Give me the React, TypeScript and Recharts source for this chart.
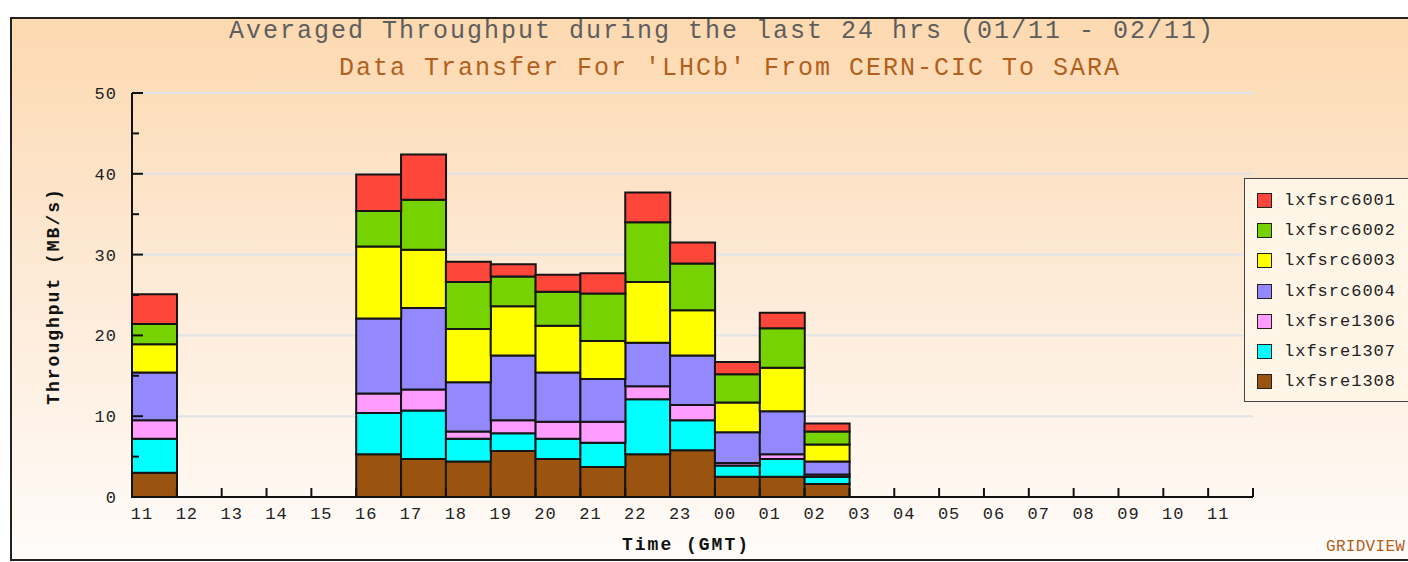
import React from "react";
import { BarChart, Bar, XAxis, YAxis, CartesianGrid } from "recharts";

const HOURS = ["11", "12", "13", "14", "15", "16", "17", "18", "19", "20", "21", "22", "23", "00", "01", "02", "03", "04", "05", "06", "07", "08", "09", "10", "11"];

// MB/s per host, one value per hour slot (0 = nothing transferred)
const lxfsre1308 = [3.0, 0, 0, 0, 0, 5.3, 4.7, 4.4, 5.7, 4.7, 3.7, 5.3, 5.8, 2.5, 2.5, 1.6, 0, 0, 0, 0, 0, 0, 0, 0, 0];
const lxfsre1307 = [4.2, 0, 0, 0, 0, 5.1, 6.0, 2.8, 2.2, 2.5, 3.0, 6.8, 3.7, 1.4, 2.2, 0.9, 0, 0, 0, 0, 0, 0, 0, 0, 0];
const lxfsre1306 = [2.3, 0, 0, 0, 0, 2.4, 2.6, 0.9, 1.6, 2.1, 2.6, 1.6, 1.9, 0.3, 0.6, 0.3, 0, 0, 0, 0, 0, 0, 0, 0, 0];
const lxfsrc6004 = [5.9, 0, 0, 0, 0, 9.3, 10.1, 6.1, 8.0, 6.1, 5.3, 5.4, 6.1, 3.8, 5.3, 1.6, 0, 0, 0, 0, 0, 0, 0, 0, 0];
const lxfsrc6003 = [3.5, 0, 0, 0, 0, 8.9, 7.2, 6.6, 6.1, 5.8, 4.7, 7.5, 5.6, 3.7, 5.4, 2.1, 0, 0, 0, 0, 0, 0, 0, 0, 0];
const lxfsrc6002 = [2.5, 0, 0, 0, 0, 4.4, 6.2, 5.8, 3.7, 4.2, 5.9, 7.4, 5.8, 3.5, 4.9, 1.6, 0, 0, 0, 0, 0, 0, 0, 0, 0];
const lxfsrc6001 = [3.7, 0, 0, 0, 0, 4.5, 5.6, 2.5, 1.5, 2.1, 2.5, 3.7, 2.6, 1.5, 1.9, 1.0, 0, 0, 0, 0, 0, 0, 0, 0, 0];

const Y_TICKS = [0, 5, 10, 15, 20, 25, 30, 35, 40, 45, 50];
const GRID_VALUES = [10, 20, 30, 40, 50];

// bottom of the stack first
const SERIES = [
  { key: "lxfsre1308", values: lxfsre1308, color: "#9a5410" },
  { key: "lxfsre1307", values: lxfsre1307, color: "#00ffff" },
  { key: "lxfsre1306", values: lxfsre1306, color: "#ff9cff" },
  { key: "lxfsrc6004", values: lxfsrc6004, color: "#9488ff" },
  { key: "lxfsrc6003", values: lxfsrc6003, color: "#ffff00" },
  { key: "lxfsrc6002", values: lxfsrc6002, color: "#76d200" },
  { key: "lxfsrc6001", values: lxfsrc6001, color: "#ff463a" },
];

const data = HOURS.map((h, i) => {
  const row: Record<string, any> = { slot: i, hour: h };
  SERIES.forEach((s) => (row[s.key] = s.values[i]));
  return row;
});

const FONT = "'Liberation Mono', 'DejaVu Sans Mono', monospace";
const SLOT = 44.84;

const XTick = (props: any) => {
  const { x, y, payload, index } = props;
  const left = x - SLOT / 2;
  return (
    <g>
      <line x1={left} y1={y} x2={left} y2={y - 9} stroke="#111" strokeWidth={2} />
      {index === HOURS.length - 1 && (
        <line x1={x + SLOT / 2} y1={y} x2={x + SLOT / 2} y2={y - 9} stroke="#111" strokeWidth={2} />
      )}
      <text x={left + 10} y={y + 22} textAnchor="middle" fontFamily={FONT} fontSize={17} letterSpacing={1} fill="#222">
        {HOURS[payload.value]}
      </text>
    </g>
  );
};

const YTick = (props: any) => {
  const { x, y, payload } = props;
  const major = payload.value % 10 === 0;
  return (
    <g>
      <line x1={x} y1={y} x2={x + (major ? 11 : 7)} y2={y} stroke="#111" strokeWidth={2} />
      {major && (
        <text x={x - 15} y={y + 6} textAnchor="end" fontFamily={FONT} fontSize={17} letterSpacing={1} fill="#222">
          {payload.value}
        </text>
      )}
    </g>
  );
};

const LegendBox = () => (
  <div
    style={{
      position: "absolute",
      left: 1244,
      top: 178,
      background: "#fff5e6",
      border: "1px solid #444",
      width: 170,
      height: 224,
      boxSizing: "border-box",
      paddingTop: 6,
    }}
  >
    {[...SERIES].reverse().map((s) => (
      <div key={s.key} style={{ display: "flex", alignItems: "center", height: 30.3 }}>
        <div style={{ width: 13, height: 13, background: s.color, border: "1.5px solid #222", marginLeft: 12, marginRight: 12 }} />
        <span style={{ fontFamily: FONT, fontSize: 17, letterSpacing: 1, color: "#222" }}>{s.key}</span>
      </div>
    ))}
  </div>
);

export default function App() {
  return (
    <div style={{ position: "absolute", left: 0, top: 0, width: 1408, height: 562, overflow: "hidden", background: "#fff" }}>
      <div
        style={{
          position: "absolute",
          left: 10,
          top: 17,
          width: 1430,
          height: 540,
          border: "2px solid #222",
          background: "linear-gradient(to bottom, #fdd9b0 0%, #fde9d4 45%, #fffcfa 100%)",
        }}
      />
      <div style={{ position: "absolute", left: 722, top: 17, transform: "translateX(-50%)", whiteSpace: "nowrap", fontFamily: FONT, fontSize: 25, letterSpacing: 2, color: "#5e5e5e" }}>
        Averaged Throughput during the last 24 hrs (01/11 - 02/11)
      </div>
      <div style={{ position: "absolute", left: 730, top: 54, transform: "translateX(-50%)", whiteSpace: "nowrap", fontFamily: FONT, fontSize: 25, letterSpacing: 2, color: "#b2601c" }}>
        Data Transfer For 'LHCb' From CERN-CIC To SARA
      </div>
      <div
        style={{
          position: "absolute",
          left: 54,
          top: 296,
          transform: "translate(-50%, -50%) rotate(-90deg)",
          whiteSpace: "nowrap",
          fontFamily: FONT,
          fontSize: 18,
          fontWeight: "bold",
          letterSpacing: 2,
          color: "#111",
        }}
      >
        Throughput (MB/s)
      </div>
      <div style={{ position: "absolute", left: 686, top: 545, transform: "translate(-50%, -50%)", whiteSpace: "nowrap", fontFamily: FONT, fontSize: 18, fontWeight: "bold", letterSpacing: 2, color: "#111" }}>
        Time (GMT)
      </div>
      <div style={{ position: "absolute", left: 1326, top: 538, whiteSpace: "nowrap", fontFamily: FONT, fontSize: 16, letterSpacing: 0.3, color: "#b2601c" }}>
        GRIDVIEW
      </div>
      <div style={{ position: "absolute", left: 0, top: 0 }}>
        <BarChart
          width={1408}
          height={562}
          data={data}
          margin={{ top: 93, right: 155, left: 0, bottom: 25 }}
          barCategoryGap={0}
          barGap={0}
        >
          <CartesianGrid vertical={false} horizontalValues={GRID_VALUES} stroke="#dfe3ea" strokeWidth={2} />
          <XAxis
            dataKey="slot"
            type="category"
            height={40}
            interval={0}
            tickSize={0}
            tickMargin={0}
            tickLine={false}
            axisLine={{ stroke: "#111", strokeWidth: 2 }}
            tick={<XTick />}
          />
          <YAxis
            width={132}
            domain={[0, 50]}
            ticks={Y_TICKS}
            interval={0}
            tickSize={0}
            tickMargin={0}
            tickLine={false}
            axisLine={{ stroke: "#111", strokeWidth: 2 }}
            tick={<YTick />}
          />
          {SERIES.map((s) => (
            <Bar key={s.key} dataKey={s.key} stackId="a" fill={s.color} stroke="#151515" strokeWidth={2} isAnimationActive={false} />
          ))}
        </BarChart>
      </div>
      <LegendBox />
    </div>
  );
}
